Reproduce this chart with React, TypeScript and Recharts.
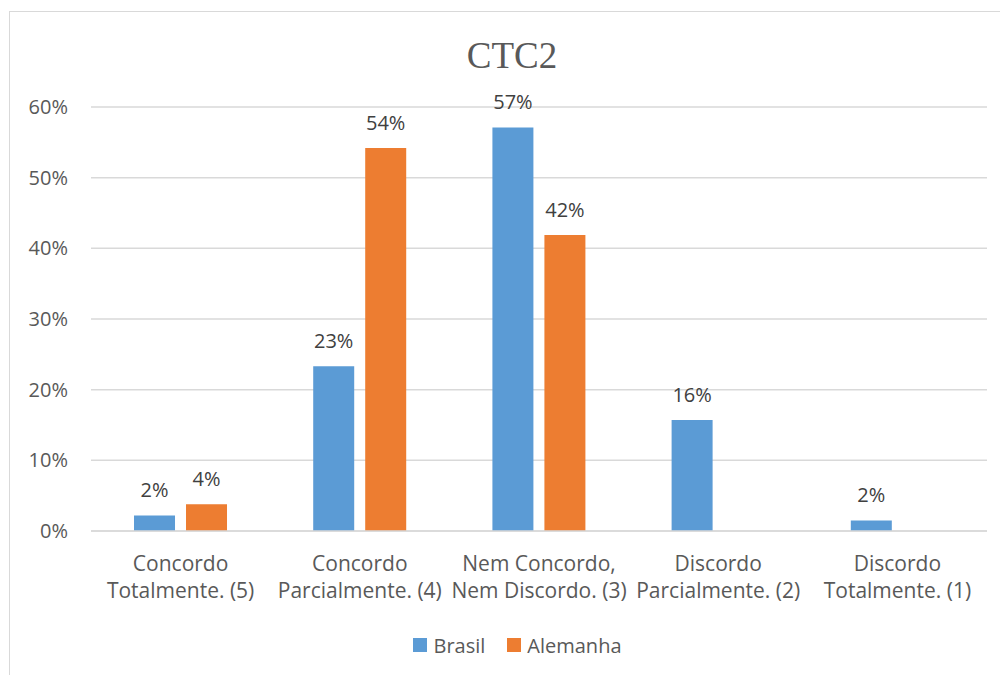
import { BarChart, Bar, XAxis, YAxis, CartesianGrid, Legend, LabelList } from "recharts";

// Respostas CTC2 por país (% dos respondentes)
const categorias = [
  "Concordo\nTotalmente. (5)",
  "Concordo\nParcialmente. (4)",
  "Nem Concordo,\nNem Discordo. (3)",
  "Discordo\nParcialmente. (2)",
  "Discordo\nTotalmente. (1)",
];
const brasil = [2.2, 23.3, 57.1, 15.7, 1.5];
const alemanha: (number | null)[] = [3.8, 54.2, 41.9, null, null];
const ticksY = [0, 10, 20, 30, 40, 50, 60];

const series = [
  { key: "brasil", nome: "Brasil", cor: "#5B9BD5" },
  { key: "alemanha", nome: "Alemanha", cor: "#ED7D31" },
];

const dados = categorias.map((c, i) => ({
  categoria: c,
  brasil: brasil[i],
  alemanha: alemanha[i],
}));

const FONTE = "'Open Sans', Lato, sans-serif";
const TAM = 20;

const CategoriaTick = (props: any) => {
  const { x, y, payload } = props;
  const linhas = String(payload.value).split("\n");
  return (
    <g transform={`translate(${x},${y})`}>
      {linhas.map((l, i) => (
        <text
          key={i}
          x={0}
          y={40 + i * 27}
          textAnchor="middle"
          fill="#595959"
          fontSize={21}
          fontFamily={FONTE}
        >
          {l}
        </text>
      ))}
    </g>
  );
};

const Legenda = () => (
  <div
    style={{
      display: "flex",
      justifyContent: "center",
      alignItems: "center",
      height: 40,
      paddingLeft: 38,
      boxSizing: "border-box",
      fontFamily: FONTE,
      fontSize: TAM,
      color: "#595959",
    }}
  >
    {series.map((s) => (
      <div key={s.key} style={{ display: "flex", alignItems: "center", margin: "0 11px", marginTop: -20 }}>
        <span style={{ width: 14, height: 14, background: s.cor, marginRight: 6 }} />
        <span>{s.nome}</span>
      </div>
    ))}
  </div>
);

const rotulo = (v: any) => (v == null ? "" : `${Math.round(v)}%`);

export default function App() {
  return (
    <div
      style={{
        position: "absolute",
        left: 9,
        top: 11,
        width: 991,
        height: 664,
        borderLeft: "1px solid #d9d9d9",
        borderTop: "1px solid #d9d9d9",
        background: "#fff",
      }}
    >
      <BarChart
        width={990}
        height={663}
        data={dados}
        margin={{ top: 95, right: 13, bottom: 0, left: 0 }}
        barCategoryGap="24%"
        barGap={11}
      >
        <text
          x={502}
          y={56}
          textAnchor="middle"
          fill="#595959"
          fontSize={37}
          fontFamily="'Liberation Serif', 'Times New Roman', serif"
        >
          CTC2
        </text>
        <CartesianGrid vertical={false} stroke="#d9d9d9" strokeWidth={1.5} />
        <XAxis
          dataKey="categoria"
          interval={0}
          height={104}
          tickLine={false}
          tickSize={0}
          tickMargin={0}
          axisLine={{ stroke: "#d9d9d9", strokeWidth: 1.5 }}
          tick={<CategoriaTick />}
        />
        <YAxis
          width={81}
          domain={[0, 60]}
          ticks={ticksY}
          interval={0}
          axisLine={false}
          tickLine={false}
          tickSize={0}
          tickMargin={23}
          tickFormatter={(v) => `${v}%`}
          tick={{ fill: "#595959", fontSize: TAM, fontFamily: FONTE }}
        />
        <Legend verticalAlign="bottom" content={<Legenda />} />
        {series.map((s) => (
          <Bar key={s.key} dataKey={s.key} name={s.nome} fill={s.cor} isAnimationActive={false}>
            <LabelList
              dataKey={s.key}
              position="top"
              offset={18}
              formatter={rotulo}
              fill="#404040"
              fontSize={TAM}
              fontFamily={FONTE}
            />
          </Bar>
        ))}
      </BarChart>
    </div>
  );
}
